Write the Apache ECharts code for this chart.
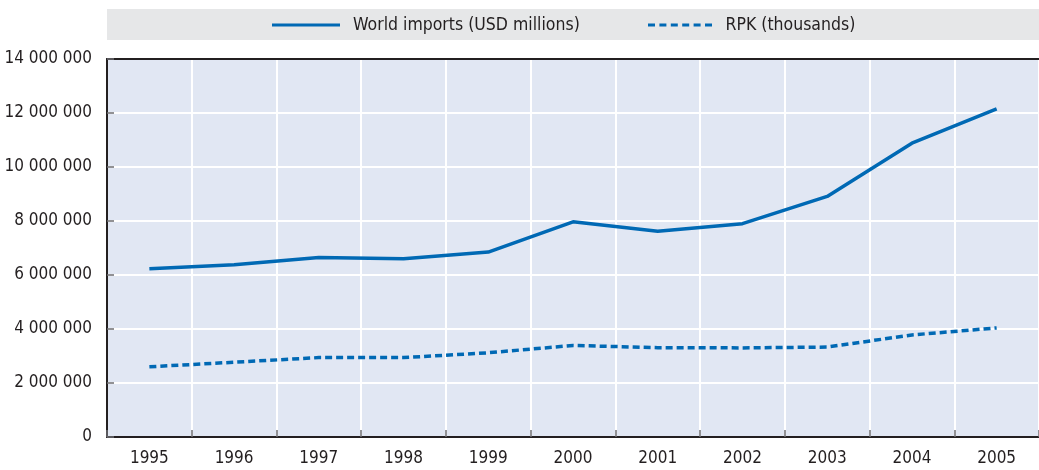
<!DOCTYPE html>
<html>
<head>
<meta charset="utf-8">
<script src="https://cdn.jsdelivr.net/npm/echarts@6/dist/echarts.min.js"></script>
<style>html,body{margin:0;padding:0;background:#fff}#c{width:1039px;height:470px}</style>
</head>
<body>
<div id="c"></div>
<script>
const years = ['1995','1996','1997','1998','1999','2000','2001','2002','2003','2004','2005'];
const worldImports = [6230000, 6380000, 6650000, 6600000, 6850000, 7970000, 7620000, 7900000, 8910000, 10880000, 12150000];
const rpk = [2600000, 2770000, 2940000, 2940000, 3120000, 3390000, 3310000, 3300000, 3330000, 3780000, 4040000];
const seriesNames = ['World imports (USD millions)', 'RPK (thousands)'];

const FONT = '"DejaVu Sans Condensed","Liberation Sans Narrow",sans-serif';
const TXT = '#231F20';
const BLUE = '#0069B4';

// legend icons: solid bar and six dashes (68 x 3 units)
const solidIcon = 'path://M0,0H68V3H0Z';
let dashPath = 'path://';
for (let i = 0; i < 6; i++) { const x = i * 11.4; dashPath += 'M' + x + ',0H' + (x + 7) + 'V3H' + x + 'Z'; }

const chart = echarts.init(document.getElementById('c'), null, {renderer:'canvas'});
const fmt = v => String(v).replace(/\B(?=(\d{3})+(?!\d))/g, ' ');
const legendText = {fontFamily: FONT, fontSize: 17.5, color: TXT, padding: [0,0,0,8]};
chart.setOption({
  animation: false,
  textStyle: {fontFamily: FONT},
  graphic: [{
    type: 'rect', left: 107, top: 9, z: -1,
    shape: {width: 932, height: 31},
    style: {fill: '#E6E7E8'}
  }],
  legend: [{
    left: 267, top: 11, itemWidth: 68, itemHeight: 3, selectedMode: false,
    textStyle: legendText,
    data: [{name: seriesNames[0], icon: solidIcon}]
  }, {
    left: 643, top: 11, itemWidth: 65, itemHeight: 3, selectedMode: false,
    textStyle: legendText,
    data: [{name: seriesNames[1], icon: dashPath}]
  }],
  grid: {left: 107, right: 0, top: 59, bottom: 33, containLabel: false, outerBoundsMode: 'none',
         show: true, backgroundColor: '#E1E7F3', borderWidth: 0},
  xAxis: [{
    type: 'category', data: years, boundaryGap: true, position: 'bottom',
    axisLine: {lineStyle: {color: TXT, width: 2}},
    axisTick: {show: true, inside: true, length: 7, lineStyle: {color: '#6D6E71', width: 1.5}},
    axisLabel: {fontFamily: FONT, fontSize: 17, color: TXT, margin: 13},
    splitLine: {show: true, lineStyle: {color: '#FFFFFF', width: 2}}
  }, {
    type: 'category', data: years, position: 'top',
    axisLine: {lineStyle: {color: TXT, width: 2}},
    axisTick: {show: false}, axisLabel: {show: false}, splitLine: {show: false}
  }],
  yAxis: {
    type: 'value', min: 0, max: 14000000, interval: 2000000,
    axisLine: {show: true, lineStyle: {color: TXT, width: 2}},
    axisTick: {show: true, inside: true, length: 7, lineStyle: {color: '#6D6E71', width: 1.5}},
    axisLabel: {fontFamily: FONT, fontSize: 17, color: TXT, margin: 15, formatter: fmt},
    splitLine: {show: true, lineStyle: {color: '#FFFFFF', width: 2}}
  },
  series: [{
    name: seriesNames[0], type: 'line', data: worldImports, symbol: 'none',
    lineStyle: {color: BLUE, width: 3.5}, itemStyle: {color: BLUE}
  }, {
    name: seriesNames[1], type: 'line', data: rpk, symbol: 'none',
    lineStyle: {color: BLUE, width: 3.5, type: [7, 4]}, itemStyle: {color: BLUE}
  }]
});
</script>
</body>
</html>
